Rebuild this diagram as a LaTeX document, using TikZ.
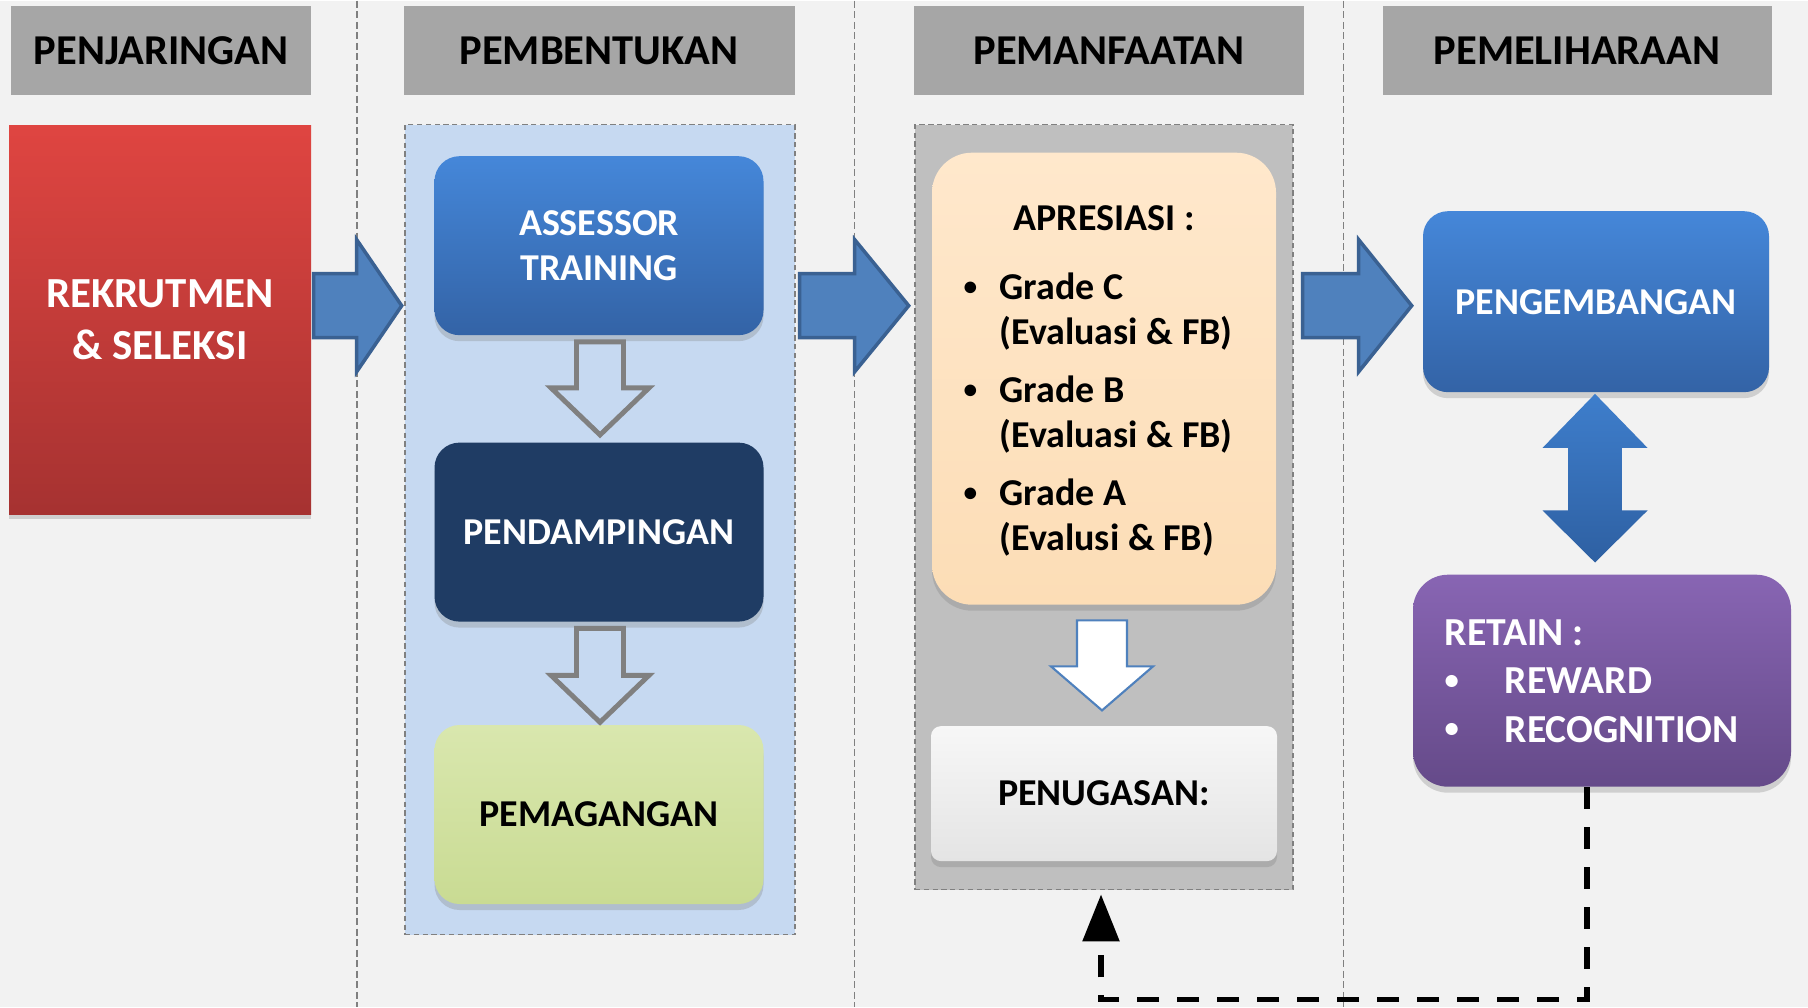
\documentclass[tikz,border=0pt]{standalone}
\usepackage{fontspec}
\setmainfont{Carlito}
\usetikzlibrary{positioning,calc,arrows.meta,shadows}

\definecolor{bgfill}{HTML}{F2F2F2}
\definecolor{hdrgray}{HTML}{A6A6A6}
\definecolor{redtop}{HTML}{DF4541}
\definecolor{redbot}{HTML}{A63231}
\definecolor{bluetop}{HTML}{4587D9}
\definecolor{bluebot}{HTML}{3363A6}
\definecolor{pdnavy}{HTML}{1F3C64}
\definecolor{greentop}{HTML}{D9E7AE}
\definecolor{greenbot}{HTML}{C9DB93}
\definecolor{peachtop}{HTML}{FFE8CC}
\definecolor{peachbot}{HTML}{FCDDB6}
\definecolor{panelblue}{HTML}{C6D9F1}
\definecolor{panelgray}{HTML}{BFBFBF}
\definecolor{arrowblue}{HTML}{4F81BD}
\definecolor{arrowedge}{HTML}{3A6192}
\definecolor{duotop}{HTML}{3E7ECC}
\definecolor{duobot}{HTML}{2E60A2}
\definecolor{purpletop}{HTML}{8865B3}
\definecolor{purplebot}{HTML}{654A89}
\definecolor{penlight}{HTML}{E4E4E4}

\newcommand{\dotmark}{\raisebox{0.12em}{\scalebox{0.72}{\textbullet}}}

\tikzset{
	pics/fatarrow/.style n args = {4}{
		code = {
			\path [pic actions] (0,-#2) -- (#1-#4,-#2) -- (#1-#4,-#3) -- (#1,0)
				-- (#1-#4,#3) -- (#1-#4,#2) -- (0,#2) -- cycle;
		}
	}
}

\begin{document}
\begin{tikzpicture}[
node distance = 1cm,
every node/.style = {
	font = \bfseries\fontsize{10.8}{12.9}\selectfont
},
phase/.style = {
	fill = hdrgray,
	minimum width = 3.9cm,
	minimum height = 0.89cm,
	inner sep = 0pt,
	font = \bfseries\fontsize{12.1}{14}\selectfont
},
panel/.style = {
	draw = gray,
	dash pattern = on 1.5pt off 1pt,
	line width = 0.4pt
},
box/.style = {
	rounded corners = 0.25cm,
	minimum width = 3.29cm,
	minimum height = 1.79cm,
	align = center,
	text = white,
	drop shadow = {opacity = 0.3, shadow xshift = 0cm, shadow yshift = -0.06cm}
},
sep/.style = {
	draw = gray,
	dash pattern = on 2pt off 1pt,
	line width = 0.4pt
},
bluearrow/.style = {
	fill = arrowblue,
	draw = arrowedge,
	line width = 1pt
},
hollowarrow/.style = {
	fill = panelblue,
	draw = gray,
	line width = 1.4pt
},
whitearrow/.style = {
	fill = white,
	draw = arrowblue,
	line width = 0.6pt
},
feedback/.style = {
	-{Triangle[length=0.47cm, width=0.36cm]},
	line width = 1.6pt,
	dash pattern = on 0.22cm off 0.18cm
}
]

\node [fill = bgfill, minimum width = 18.08cm, minimum height = 10.06cm, inner sep = 0pt, outer sep = 0pt, anchor = north west] (frame) at (0,0) {};

% phase titles
\node [phase, minimum width = 2.99cm] (penjaringan) at (1.61,-0.50) {PENJARINGAN};
\node [phase, minimum width = 3.91cm] (pembentukan) at (5.99,-0.50) {PEMBENTUKAN};
\node [phase] (pemanfaatan) at (11.09,-0.50) {PEMANFAATAN};
\node [phase, minimum width = 3.89cm] (pemeliharaan) at (15.77,-0.50) {PEMELIHARAAN};

\coordinate (s1) at ($(penjaringan.east)!0.5!(pembentukan.west)$);
\coordinate (s2) at ($(pembentukan.east)!0.5!(pemanfaatan.west)$);
\coordinate (s3) at ($(pemanfaatan.east)!0.5!(pemeliharaan.west)$);
\draw [sep] (s1 |- frame.north) -- (s1 |- frame.south);
\draw [sep] (s2 |- frame.north) -- (s2 |- frame.south);
\draw [sep] (s3 |- frame.north) -- (s3 |- frame.south);

% penjaringan
\node [top color = redtop, bottom color = redbot, minimum width = 3.02cm, minimum height = 3.89cm, text = white, align = center, font = \bfseries\fontsize{12.2}{15}\selectfont, drop shadow = {opacity = 0.3, shadow xshift = 0cm, shadow yshift = -0.05cm}] (rekrutmen) at (1.60,-3.19) {REKRUTMEN\\\& SELEKSI};

% pembentukan
\node [panel, fill = panelblue, minimum width = 3.90cm, minimum height = 8.10cm] (pbtpanel) at (6.00,-5.29) {};
\node [box, top color = bluetop, bottom color = bluebot] (assessor) at (5.99,-2.45) {ASSESSOR\\TRAINING};
\node [box, fill = pdnavy, below = 1.06cm of assessor] (pendampingan) {PENDAMPINGAN};
\node [box, top color = greentop, bottom color = greenbot, text = black, below = 1.02cm of pendampingan] (pemagangan) {PEMAGANGAN};

% pemanfaatan
\node [panel, fill = panelgray, minimum width = 3.78cm, minimum height = 7.65cm] (pmfpanel) at (11.04,-5.065) {};
\node [box, top color = peachtop, bottom color = peachbot, rounded corners = 0.4cm, minimum width = 3.44cm, minimum height = 4.52cm] (apresiasi) at (11.04,-3.78) {};
\node [inner sep = 0pt, below = 0.53cm of apresiasi.north] (aprtitle) {APRESIASI :};
\node [inner sep = 0pt, anchor = base west, font = \bfseries\fontsize{10.8}{12.7}\selectfont] (grades) at (9.63,-2.99) {%
\begin{tabular}[t]{@{}p{0.36cm}@{}l@{}}
\dotmark & Grade C\\
 & (Evaluasi \& FB)\\[3.9pt]
\dotmark & Grade B\\
 & (Evaluasi \& FB)\\[3.9pt]
\dotmark & Grade A\\
 & (Evalusi \& FB)
\end{tabular}};
\node [box, top color = penlight!30!white, bottom color = penlight, text = black, rounded corners = 0.1cm, minimum width = 3.46cm, minimum height = 1.35cm, below = 1.20cm of apresiasi] (penugasan) {PENUGASAN:};

% pemeliharaan
\node [box, top color = bluetop, bottom color = bluebot, minimum width = 3.46cm, minimum height = 1.81cm] (pengembangan) at (15.96,-3.01) {PENGEMBANGAN};
\node [box, top color = purpletop, bottom color = purplebot, rounded corners = 0.35cm, minimum width = 3.78cm, minimum height = 2.12cm] (retain) at (16.02,-6.80) {};
\node [inner sep = 0pt, anchor = base west, text = white, font = \bfseries\fontsize{11.3}{13.7}\selectfont] (retainlist) at (14.44,-6.45) {%
\begin{tabular}[t]{@{}p{0.60cm}@{}l@{}}
\multicolumn{2}{@{}l@{}}{RETAIN :}\\
\dotmark & REWARD\\
\dotmark & RECOGNITION
\end{tabular}};

% flow arrows
\coordinate (flow) at (0,-3.05);
\pic [bluearrow] at ($(rekrutmen.east |- flow)+(0.02,0)$) {fatarrow={0.88}{0.32}{0.66}{0.45}};
\pic [bluearrow] at ($(pbtpanel.east |- flow)+(0.04,0)$) {fatarrow={1.09}{0.32}{0.66}{0.54}};
\pic [bluearrow] at ($(pmfpanel.east |- flow)+(0.09,0)$) {fatarrow={1.09}{0.32}{0.66}{0.53}};

\pic [hollowarrow, rotate = -90] at ($(assessor.south)+(0.01,-0.06)$) {fatarrow={0.93}{0.235}{0.49}{0.47}};
\pic [hollowarrow, rotate = -90] at ($(pendampingan.south)+(0.01,-0.06)$) {fatarrow={0.94}{0.235}{0.49}{0.47}};
\pic [whitearrow, rotate = -90] at ($(apresiasi.south)+(-0.02,-0.15)$) {fatarrow={0.90}{0.25}{0.51}{0.44}};

\shade [top color = duotop, bottom color = duobot] ($(pengembangan.south)+(-0.01,-0.01)$) -- ++(0.525,-0.54) -- ++(-0.257,0) -- ++(0,-0.626) -- ++(0.257,0) -- ++(-0.525,-0.52) -- ++(-0.525,0.52) -- ++(0.257,0) -- ++(0,0.626) -- ++(-0.257,0) -- cycle;

\draw [feedback] ($(retain.south)+(-0.15,0)$) -- ++(0,-2.12) -| ($(pmfpanel.south)+(-0.03,-0.04)$);

\end{tikzpicture}
\end{document}
